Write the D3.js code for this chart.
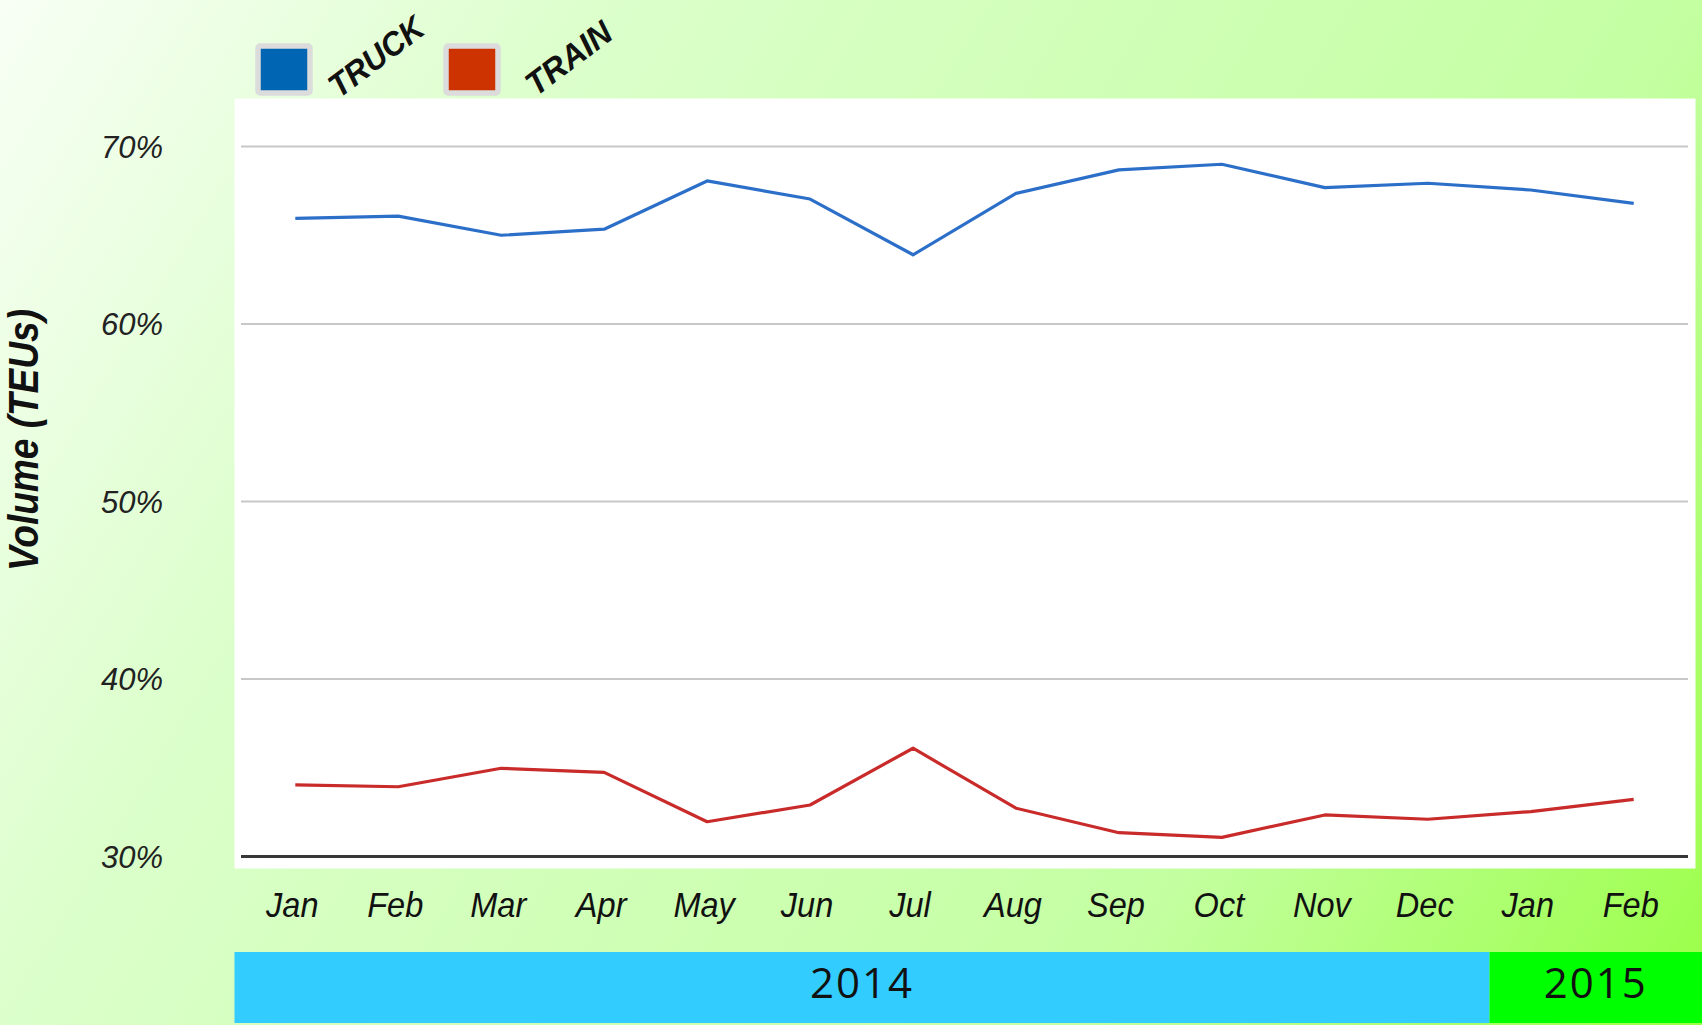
<!DOCTYPE html>
<html>
<head>
<meta charset="utf-8">
<script src="https://cdn.jsdelivr.net/npm/d3@7"></script>
<style>
  html, body { margin: 0; padding: 0; overflow: hidden; }
  svg { display: block; }
</style>
</head>
<body>
<svg id="chart" width="1702" height="1025"></svg>
<script>
// ---- data ----
const months = ["Jan","Feb","Mar","Apr","May","Jun","Jul","Aug","Sep","Oct","Nov","Dec","Jan","Feb"];
const truck  = [65.95,66.08,65.0,65.34,68.06,67.04,63.9,67.36,68.68,69.0,67.68,67.93,67.55,66.8];
const train  = [34.03,33.93,34.97,34.74,31.96,32.9,36.1,32.72,31.34,31.08,32.34,32.1,32.53,33.22];
const yTicks = [30,40,50,60,70];
const yearLabels = ["2014","2015"];
const yearMonthCounts = [12,2];
const seriesNames = ["TRUCK","TRAIN"];

// ---- layout ----
const W = 1702, H = 1025;
const svg = d3.select("#chart");
const defs = svg.append("defs");
const grad = defs.append("linearGradient").attr("id","bg")
  .attr("gradientUnits","userSpaceOnUse").attr("x1",0).attr("y1",0).attr("x2",W).attr("y2",H);
[[0,"#f8fff5"],[0.27,"#dbffca"],[0.73,"#c4ffa2"],[1,"#9aff46"]].forEach(s =>
  grad.append("stop").attr("offset",s[0]).attr("stop-color",s[1]));
svg.append("rect").attr("width",W).attr("height",H).attr("fill","url(#bg)");

const plot = {x0:234.5, x1:1695.5, y0:98.5, y1:868.5};
svg.append("rect").attr("x",plot.x0).attr("y",plot.y0)
  .attr("width",plot.x1-plot.x0).attr("height",plot.y1-plot.y0).attr("fill","#ffffff");

const x = d3.scalePoint().domain(d3.range(months.length)).range([295.3,1633.7]);
const y = d3.scaleLinear().domain([30,70]).range([856.5,146.5]);
const step = x.step();

// gridlines
svg.append("g").selectAll("line").data(yTicks.filter(t => t !== 30)).join("line")
  .attr("x1",241).attr("x2",1688)
  .attr("y1",d => y(d)).attr("y2",d => y(d))
  .attr("stroke","#c8c8c8").attr("stroke-width",2);

// y tick labels
svg.append("g").selectAll("text").data(yTicks).join("text")
  .attr("x",163).attr("y",d => y(d)).attr("dy","0.36em")
  .attr("text-anchor","end")
  .attr("font-family","Liberation Sans, Arial, sans-serif")
  .attr("font-style","italic").attr("font-size",31).attr("fill","#222")
  .text(d => d + "%");

// axis title
svg.append("text")
  .attr("transform","translate(38,440) rotate(-90)")
  .attr("text-anchor","middle")
  .attr("font-family","Liberation Sans, Arial, sans-serif")
  .attr("font-style","italic").attr("font-weight","bold")
  .attr("font-size",43).attr("fill","#111")
  .attr("textLength",262).attr("lengthAdjust","spacingAndGlyphs")
  .text("Volume (TEUs)");

// lines
const line = d3.line().x((d,i) => x(i)).y(d => y(d));
svg.append("path").datum(train).attr("d",line)
  .attr("fill","none").attr("stroke","#c92a2a").attr("stroke-width",3.2)
  .attr("stroke-linejoin","round");
svg.append("path").datum(truck).attr("d",line)
  .attr("fill","none").attr("stroke","#2c6fc9").attr("stroke-width",3.2)
  .attr("stroke-linejoin","round");

// baseline
svg.append("line").attr("x1",241).attr("x2",1688)
  .attr("y1",y(30)).attr("y2",y(30))
  .attr("stroke","#383838").attr("stroke-width",3);

// x labels
svg.append("g").selectAll("text").data(months).join("text")
  .attr("transform",(d,i) => `translate(${x(i)-3},917) scale(0.93,1)`)
  .attr("text-anchor","middle")
  .attr("font-family","Liberation Sans, Arial, sans-serif")
  .attr("font-style","italic").attr("font-size",35).attr("fill","#111")
  .text(d => d);

// year band
const boundary = x(yearMonthCounts[0]) - 0.4*step;
const yearBands = [
  {label:yearLabels[0], x0:plot.x0, x1:boundary, color:"#33ccff"},
  {label:yearLabels[1], x0:boundary, x1:W, color:"#00ff00"}
];
const yb = svg.append("g");
yb.selectAll("rect").data(yearBands).join("rect")
  .attr("x",d => d.x0).attr("y",952).attr("width",d => d.x1-d.x0).attr("height",71)
  .attr("fill",d => d.color);
yb.selectAll("text").data(yearBands).join("text")
  .attr("x",d => (d.x0+d.x1)/2).attr("y",998)
  .attr("text-anchor","middle")
  .attr("font-family","Open Sans, Noto Sans, sans-serif")
  .attr("font-size",42).attr("letter-spacing",2).attr("fill","#111")
  .text(d => d.label);

// legend
const legend = [
  {name:seriesNames[0], color:"#0066b3", bx:258, tx:339, ty:99, len:110},
  {name:seriesNames[1], color:"#cc3300", bx:446, tx:536, ty:97, len:99}
];
const lg = svg.append("g");
lg.selectAll("rect").data(legend).join("rect")
  .attr("x",d => d.bx).attr("y",46).attr("width",52).attr("height",47)
  .attr("rx",2)
  .attr("fill",d => d.color).attr("stroke","#dcdcdc").attr("stroke-width",5.5);
lg.selectAll("text").data(legend).join("text")
  .attr("transform",d => `translate(${d.tx},${d.ty}) rotate(-37)`)
  .attr("font-family","Liberation Sans, Arial, sans-serif")
  .attr("font-style","italic").attr("font-weight","bold")
  .attr("font-size",33).attr("fill","#111")
  .attr("textLength",d => d.len).attr("lengthAdjust","spacingAndGlyphs")
  .text(d => d.name);
</script>
</body>
</html>
